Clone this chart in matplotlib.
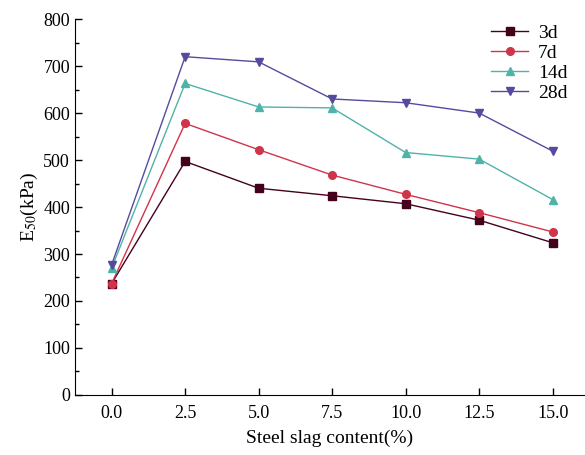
import matplotlib.pyplot as plt
from matplotlib.ticker import MultipleLocator

plt.rcParams['font.family'] = ['Liberation Serif', 'DejaVu Serif']
plt.rcParams['mathtext.fontset'] = 'stix'

content = [0.0, 2.5, 5.0, 7.5, 10.0, 12.5, 15.0]
e50_3d = [237, 497, 440, 424, 407, 372, 324]
e50_7d = [237, 578, 522, 468, 427, 388, 347]
e50_14d = [270, 663, 613, 611, 516, 502, 416]
e50_28d = [277, 720, 709, 630, 622, 600, 519]
labels = ['3d', '7d', '14d', '28d']

series = [e50_3d, e50_7d, e50_14d, e50_28d]
colors = ['#45001c', '#d0344a', '#4fb3a9', '#564a9e']
markers = ['s', 'o', '^', 'v']

fig = plt.figure(figsize=(5.85, 4.55), dpi=100)
ax = fig.add_axes([0.128, 0.132, 0.872, 0.826])

for y, c, m, lab in zip(series, colors, markers, labels):
    ax.plot(content, y, color=c, marker=m, markersize=5.5, linewidth=1.0, label=lab)

ax.set_xlim(-1.25, 16.1)
ax.set_ylim(0, 800)
ax.set_xticks(content)
ax.set_xticklabels(['%.1f' % v for v in content])
ax.yaxis.set_minor_locator(MultipleLocator(50))
ax.tick_params(direction='in', labelsize=13, length=5, width=1)
ax.tick_params(axis='x', pad=7)
ax.tick_params(which='minor', direction='in', length=3, width=1)
ax.spines['top'].set_visible(False)
ax.spines['right'].set_visible(False)

ax.set_xlabel('Steel slag content(%)', fontsize=14, labelpad=6)
ax.set_ylabel('E$_{50}$(kPa)', fontsize=14, labelpad=2)

ax.legend(loc='upper right', bbox_to_anchor=(1.0, 1.032), frameon=False, fontsize=14,
          handlelength=1.9, labelspacing=0.12, handletextpad=0.5)

fig.savefig('out.png', dpi=100)
